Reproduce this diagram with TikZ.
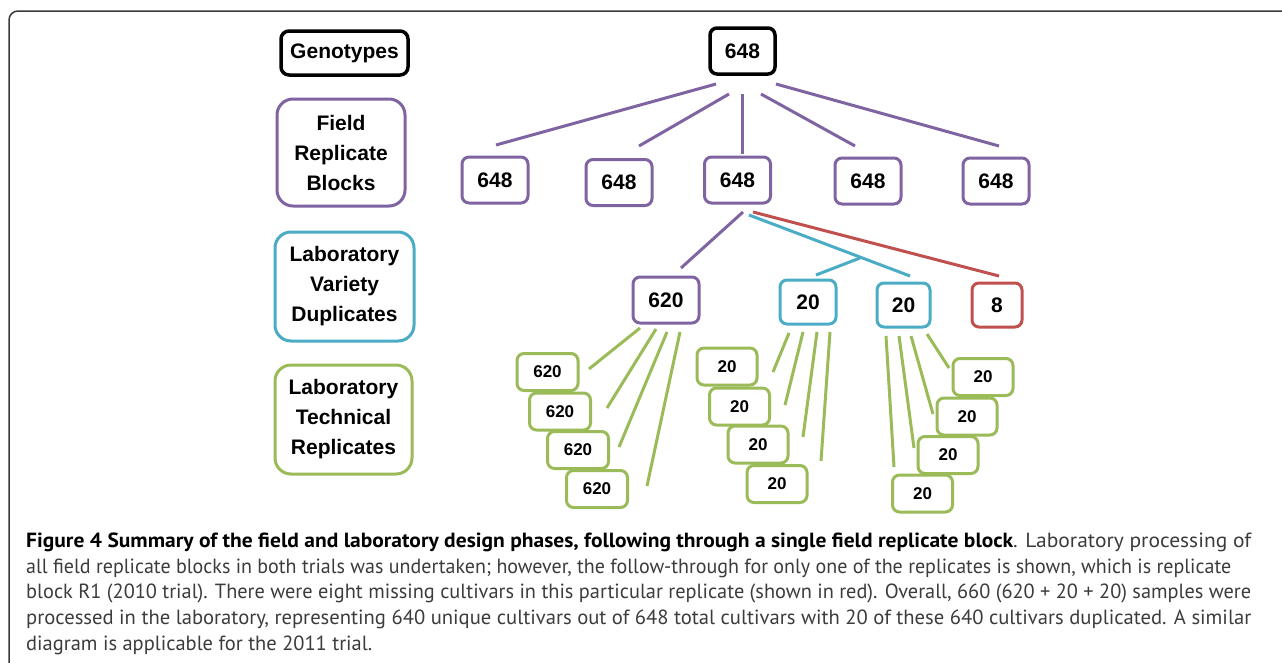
\documentclass[tikz,border=0pt]{standalone}
\usepackage{fontspec}
\setmainfont{Liberation Sans}
\newfontfamily\capfont{PT Sans}
\usetikzlibrary{calc}
\definecolor{purp}{HTML}{8064A2}
\definecolor{aqua}{HTML}{4BACC6}
\definecolor{redc}{HTML}{C0504D}
\definecolor{grn}{HTML}{9BBB59}
\definecolor{capgray}{HTML}{3C3C3C}
\definecolor{framegray}{HTML}{3A3A3A}
\begin{document}
\begin{tikzpicture}[x=1pt,y=-1pt,
  box/.style={draw, line width=3pt, rounded corners=7pt, fill=white, inner sep=0pt,
    font=\bfseries\fontsize{21}{25}\selectfont, align=center},
  lbl/.style={box, rounded corners=16pt, font=\bfseries\fontsize{21}{30}\selectfont},
  tbox/.style={box, font=\bfseries\fontsize{17}{20}\selectfont, minimum width=61pt, minimum height=37pt},
  nbox/.style={box, minimum width=66pt, minimum height=46pt},
  conn/.style={line width=3pt},
  captext/.style={inner sep=0pt, anchor=base west, font=\capfont\fontsize{20.5}{24}\selectfont, text=capgray}]
\useasboundingbox (0,0) rectangle (1282,662);
\fill[white] (0,0) rectangle (1282,662);
% frame
\draw[line width=1.5pt, framegray, rounded corners=9pt] (9,670) -- (9,11) -- (1290,11);

% connector end points
\coordinate (a1) at (716,84);  \coordinate (b1) at (496,145);
\coordinate (a2) at (729,94);  \coordinate (b2) at (639,146);
\coordinate (a3) at (742,94);  \coordinate (b3) at (742,154);
\coordinate (a4) at (761,94);  \coordinate (b4) at (855,146);
\coordinate (a5) at (776,84);  \coordinate (b5) at (999,146);
\coordinate (pa) at (743,212); \coordinate (pb) at (681,268);
\coordinate (ca) at (749,215); \coordinate (cb) at (910,276);
\coordinate (cj) at (860,258); \coordinate (cc) at (816,275);
\coordinate (ra) at (753,212); \coordinate (rb) at (999,276);
\coordinate (g1a) at (640,328); \coordinate (g1b) at (589,369);
\coordinate (g2a) at (656,329); \coordinate (g2b) at (607,408);
\coordinate (g3a) at (667,332); \coordinate (g3b) at (619,447);
\coordinate (g4a) at (680,332); \coordinate (g4b) at (647,486);
\coordinate (h1a) at (789,333); \coordinate (h1b) at (773,372);
\coordinate (h2a) at (803,332); \coordinate (h2b) at (785,405);
\coordinate (h3a) at (817,332); \coordinate (h3b) at (803,437);
\coordinate (h4a) at (830,332); \coordinate (h4b) at (821,461);
\coordinate (k1a) at (886,336); \coordinate (k1b) at (894,467);
\coordinate (k2a) at (899,336); \coordinate (k2b) at (914,448);
\coordinate (k3a) at (911,336); \coordinate (k3b) at (933,414);
\coordinate (k4a) at (927,334); \coordinate (k4b) at (949,368);

% connectors
\draw[conn, purp] (a1) -- (b1);
\draw[conn, purp] (a2) -- (b2);
\draw[conn, purp] (a3) -- (b3);
\draw[conn, purp] (a4) -- (b4);
\draw[conn, purp] (a5) -- (b5);
\draw[conn, purp] (pa) -- (pb);
\draw[conn, redc] (ra) -- (rb);
\draw[conn, aqua] (ca) -- (cb);
\draw[conn, aqua] (cj) -- (cc);
\foreach \n in {g1,g2,g3,g4,h1,h2,h3,h4,k1,k2,k3,k4}
  \draw[conn, grn] (\n a) -- (\n b);

% level labels
\node[lbl, draw=black, line width=3.5pt, rounded corners=8pt, minimum width=127pt, minimum height=44pt] (lgen) at (344.5,53) {Genotypes};
\node[lbl, draw=purp, minimum width=128pt, minimum height=107pt] (lfield) at (341,152.5) {Field\\Replicate\\Blocks};
\node[lbl, draw=aqua, minimum width=139pt, minimum height=109pt] (lvar) at (344.5,286.5) {Laboratory\\Variety\\Duplicates};
\node[lbl, draw=grn, minimum width=137pt, minimum height=109pt] (ltech) at (343.5,419.5) {Laboratory\\Technical\\Replicates};

% tree nodes
\node[nbox, draw=black, line width=3.5pt, minimum width=65pt] (top) at (742.5,51) {648};
\node[nbox, draw=purp] (f1) at (495,180) {648};
\node[nbox, draw=purp] (f2) at (619,182.5) {648};
\node[nbox, draw=purp] (f3) at (737.5,180) {648};
\node[nbox, draw=purp] (f4) at (868,181) {648};
\node[nbox, draw=purp] (f5) at (996,181) {648};
\node[nbox, draw=purp] (d620) at (666,300) {620};
\node[nbox, draw=aqua, minimum width=56pt, minimum height=44pt] (da) at (808,302) {20};
\node[nbox, draw=aqua, minimum width=53pt, minimum height=44pt] (db) at (903.5,305) {20};
\node[nbox, draw=redc, minimum width=50pt, minimum height=44pt] (dr) at (997,305) {8};

\node[tbox, draw=grn] (t1) at (547.5,372) {620};
\node[tbox, draw=grn] (t2) at (560,411.5) {620};
\node[tbox, draw=grn] (t3) at (578,450) {620};
\node[tbox, draw=grn] (t4) at (597,489) {620};

\node[tbox, draw=grn, minimum width=60pt] (u1) at (727,366.5) {20};
\node[tbox, draw=grn, minimum width=60pt] (u2) at (739.5,406.5) {20};
\node[tbox, draw=grn, minimum width=60pt] (u3) at (758,444.5) {20};
\node[tbox, draw=grn, minimum width=60pt] (u4) at (777,484) {20};

\node[tbox, draw=grn, minimum width=60pt] (v1) at (983,377) {20};
\node[tbox, draw=grn, minimum width=60pt] (v2) at (967,416.5) {20};
\node[tbox, draw=grn, minimum width=60pt] (v3) at (948,455) {20};
\node[tbox, draw=grn, minimum width=60pt] (v4) at (922.5,493.5) {20};

% caption
\node[captext] (c1) at (26,547) {\resizebox{1225pt}{\height}{\textcolor{black}{\bfseries Figure 4 Summary of the field and laboratory design phases, following through a single field replicate block}. Laboratory processing of}};
\node[captext] (c2) at (26,573) {\resizebox{1205pt}{\height}{all field replicate blocks in both trials was undertaken; however, the follow-through for only one of the replicates is shown, which is replicate}};
\node[captext] (c3) at (26,598.5) {\resizebox{1225pt}{\height}{block R1 (2010 trial). There were eight missing cultivars in this particular replicate (shown in red). Overall, 660 (620 + 20 + 20) samples were}};
\node[captext] (c4) at (26,624) {\resizebox{1225pt}{\height}{processed in the laboratory, representing 640 unique cultivars out of 648 total cultivars with 20 of these 640 cultivars duplicated. A similar}};
\node[captext] (c5) at (26,650) {\resizebox{346pt}{\height}{diagram is applicable for the 2011 trial.}};
\end{tikzpicture}
\end{document}
